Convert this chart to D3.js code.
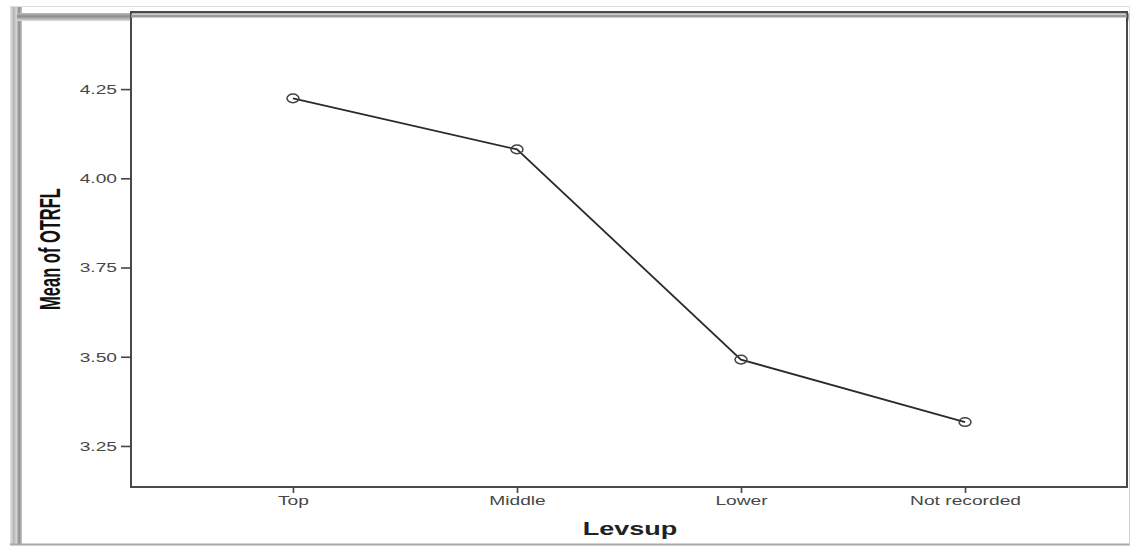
<!DOCTYPE html>
<html>
<head>
<meta charset="utf-8">
<script src="https://cdn.jsdelivr.net/npm/d3@7"></script>
<style>
  html, body { margin: 0; padding: 0; background: #fff; }
  svg { display: block; }
  text { font-family: "Liberation Sans", Arial, sans-serif; }
</style>
</head>
<body>
<svg id="chart" width="1130" height="547"></svg>
<script>
const categories = ["Top", "Middle", "Lower", "Not recorded"];
const means = [4.224, 4.081, 3.492, 3.317];
const yTicks = [3.25, 3.50, 3.75, 4.00, 4.25];
const xTitle = "Levsup";
const yTitle = "Mean of OTRFL";

const W = 1130, H = 547;
const plot = { left: 131, right: 1127, top: 12, bottom: 487 };
const sx = 1.6; // horizontal stretch of the original picture

const svg = d3.select("#chart");
const defs = svg.append("defs");

// bevel gradients for the outer frame
const gL = defs.append("linearGradient").attr("id", "bevL").attr("x1", "0").attr("x2", "1").attr("y1", "0").attr("y2", "0");
gL.append("stop").attr("offset", "0").attr("stop-color", "#e6e6e6");
gL.append("stop").attr("offset", "0.3").attr("stop-color", "#b8b8b8");
gL.append("stop").attr("offset", "0.55").attr("stop-color", "#d4d4d4");
gL.append("stop").attr("offset", "0.75").attr("stop-color", "#8a8a8a");
gL.append("stop").attr("offset", "1").attr("stop-color", "#c8c8c8");
const gT = defs.append("linearGradient").attr("id", "bevT").attr("x1", "0").attr("x2", "0").attr("y1", "0").attr("y2", "1");
gT.append("stop").attr("offset", "0").attr("stop-color", "#bdbdbd");
gT.append("stop").attr("offset", "0.4").attr("stop-color", "#8c8c8c");
gT.append("stop").attr("offset", "0.7").attr("stop-color", "#b0b0b0");
gT.append("stop").attr("offset", "1").attr("stop-color", "#e0e0e0");

// faint outer line
svg.append("rect").attr("x", 10.5).attr("y", 6.5).attr("width", 1119).attr("height", 538)
  .attr("fill", "none").attr("stroke", "#dedede").attr("stroke-width", 1);
// left bevel
svg.append("rect").attr("x", 10).attr("y", 7).attr("width", 12).attr("height", 538).attr("fill", "url(#bevL)");
// top bevel
svg.append("rect").attr("x", 17).attr("y", 13).attr("width", 1112).attr("height", 8).attr("fill", "url(#bevT)");
// bottom & right thin lines
svg.append("line").attr("x1", 10).attr("x2", 1130).attr("y1", 544.5).attr("y2", 544.5).attr("stroke", "#a8a8a8").attr("stroke-width", 2);
svg.append("line").attr("x1", 1129.5).attr("x2", 1129.5).attr("y1", 13).attr("y2", 545).attr("stroke", "#d0d0d0").attr("stroke-width", 1);

// plot area
svg.append("rect").attr("x", plot.left).attr("y", plot.top + 2)
  .attr("width", plot.right - plot.left).attr("height", plot.bottom - plot.top - 2)
  .attr("fill", "#fff");
svg.append("rect").attr("x", plot.left).attr("y", plot.top)
  .attr("width", plot.right - plot.left).attr("height", plot.bottom - plot.top)
  .attr("fill", "none").attr("stroke", "#4a4a4a").attr("stroke-width", 2);
svg.append("line").attr("x1", plot.left).attr("x2", plot.right).attr("y1", plot.top + 4).attr("y2", plot.top + 4)
  .attr("stroke", "#9a9a9a").attr("stroke-width", 3);

const x = d3.scalePoint().domain(categories).range([plot.left, plot.right]).padding(0.723);
const y = d3.scaleLinear().domain([3.135, 4.466]).range([plot.bottom, plot.top]);

// Y axis
const yAxis = svg.append("g").attr("transform", `translate(${plot.left},0)`)
  .call(d3.axisLeft(y).tickValues(yTicks).tickFormat(d3.format(".2f")).tickSize(10).tickPadding(4));
yAxis.select(".domain").remove();
yAxis.selectAll(".tick line").attr("stroke", "#444").attr("stroke-width", 1.6);
yAxis.selectAll(".tick text")
  .attr("x", 0).attr("dy", "0.36em")
  .attr("transform", `translate(-14,0) scale(${sx},1)`)
  .attr("fill", "#474747").style("font-size", "12px");

// X axis
const xAxis = svg.append("g").attr("transform", `translate(0,${plot.bottom})`)
  .call(d3.axisBottom(x).tickSize(6));
xAxis.select(".domain").remove();
xAxis.selectAll(".tick line").attr("stroke", "#444").attr("stroke-width", 1.6);
xAxis.selectAll(".tick text")
  .attr("y", 0).attr("dy", null)
  .attr("transform", `translate(0,18) scale(${sx},1)`)
  .attr("fill", "#474747").style("font-size", "12px");

// axis titles
svg.append("text")
  .attr("transform", `translate(630,535) scale(1.5,1)`)
  .attr("text-anchor", "middle")
  .style("font-size", "18px").style("font-weight", "bold").attr("fill", "#222")
  .text(xTitle);
svg.append("text")
  .attr("transform", `translate(60,249) scale(1.8,1) rotate(-90)`)
  .attr("text-anchor", "middle")
  .style("font-size", "16.5px").style("font-weight", "bold").attr("fill", "#111")
  .text(yTitle);

// line
const line = d3.line().x((d, i) => x(categories[i])).y(d => y(d));
svg.append("path").datum(means).attr("d", line)
  .attr("fill", "none").attr("stroke", "#2a2a2a").attr("stroke-width", 1.8);

// markers
svg.selectAll(".pt").data(means).enter().append("ellipse")
  .attr("class", "pt")
  .attr("cx", (d, i) => x(categories[i])).attr("cy", d => y(d))
  .attr("rx", 6).attr("ry", 4.3)
  .attr("fill", "none").attr("stroke", "#444").attr("stroke-width", 1.5);
</script>
</body>
</html>
